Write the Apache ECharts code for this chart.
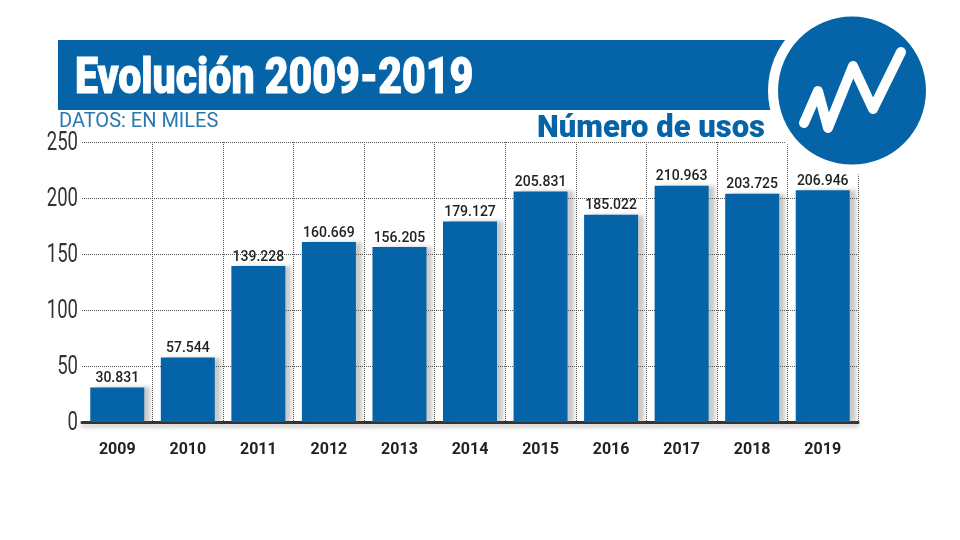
<!DOCTYPE html>
<html>
<head>
<meta charset="utf-8">
<style>
  html, body { margin: 0; padding: 0; background: #fff; }
  #chart { width: 960px; height: 540px; }
</style>
<script src="https://cdn.jsdelivr.net/npm/echarts@6/dist/echarts.min.js"></script>
</head>
<body>
<div id="chart"></div>
<script>
const years = ['2009', '2010', '2011', '2012', '2013', '2014', '2015', '2016', '2017', '2018', '2019'];
const usos = [30.831, 57.544, 139.228, 160.669, 156.205, 179.127, 205.831, 185.022, 210.963, 203.725, 206.946];
const yTicks = [0, 50, 100, 150, 200, 250];

const BLUE = '#0563a8';
const chart = echarts.init(document.getElementById('chart'));

const decor = [
  { type: 'rect', z: 40, shape: { x: 58, y: 40, width: 740, height: 70 }, style: { fill: BLUE } },
  { type: 'circle', z: 41, shape: { cx: 852, cy: 90.6, r: 84 }, style: { fill: '#fff' } },
  { type: 'circle', z: 42, shape: { cx: 852, cy: 90.6, r: 74 }, style: { fill: BLUE } },
  {
    type: 'polyline', z: 43,
    shape: { points: [[804, 123], [818, 91], [828, 128], [853, 66], [873, 109], [901, 52]] },
    style: { stroke: '#fff', lineWidth: 10, fill: null, lineCap: 'round', lineJoin: 'round' },
  },
  {
    type: 'text', z: 44, x: 75, y: 55, scaleX: 0.82,
    style: { text: 'Evolución 2009-2019', fill: '#fff', stroke: '#fff', lineWidth: 1, fontFamily: 'Roboto', fontWeight: 900, fontSize: 50 },
  },
  {
    type: 'text', z: 44, x: 59, y: 112,
    style: { text: 'DATOS: EN MILES', fill: '#2a78ad', fontFamily: 'Roboto', fontSize: 20 },
  },
  {
    type: 'text', z: 44, x: 537, y: 114,
    style: { text: 'Número de usos', fill: BLUE, fontFamily: 'Roboto', fontWeight: 900, fontSize: 31 },
  },
];

chart.setOption({
  animation: false,
  backgroundColor: '#fff',
  grid: { left: 82, right: 102, top: 142, bottom: 118 },
  xAxis: {
    type: 'category',
    data: years,
    axisLine: { lineStyle: { color: '#333', width: 3, shadowColor: 'rgba(0,0,0,0.25)', shadowBlur: 4, shadowOffsetY: 3 } },
    axisTick: { show: false },
    axisLabel: { margin: 20, color: '#222', fontFamily: 'Roboto', fontWeight: 'bold', fontSize: 16, interval: 0 },
    splitLine: {
      show: true,
      interval: (i) => i > 0,
      lineStyle: { color: '#555', width: 1, type: [1, 1] },
    },
  },
  yAxis: {
    type: 'value',
    min: 0,
    max: yTicks[yTicks.length - 1],
    interval: 50,
    axisLine: { show: false },
    axisTick: { show: false },
    axisLabel: { show: false },
    splitLine: { lineStyle: { color: '#555', width: 1, type: [1, 1] } },
  },
  series: [{
    type: 'bar',
    data: usos,
    barWidth: 54,
    itemStyle: {
      color: BLUE,
      shadowColor: 'rgba(90,90,90,0.32)',
      shadowBlur: 4,
      shadowOffsetX: 6,
    },
    label: {
      show: true,
      position: 'top',
      distance: 2,
      color: '#222',
      fontFamily: 'Roboto',
      fontWeight: 500,
      fontSize: 14,
      formatter: (p) => p.value.toFixed(3),
    },
  }],
});

// the y labels are a condensed face, so squeeze them and place them with the axis scale
const yLabels = yTicks.map((v) => ({
  type: 'text',
  z: 44,
  x: 78,
  y: chart.convertToPixel({ yAxisIndex: 0 }, v) + 2,
  scaleX: 0.74,
  style: { text: String(v), fill: '#333', fontFamily: 'Roboto', fontSize: 25, align: 'right', verticalAlign: 'middle' },
}));
chart.setOption({ graphic: [...decor, ...yLabels] });
</script>
</body>
</html>
